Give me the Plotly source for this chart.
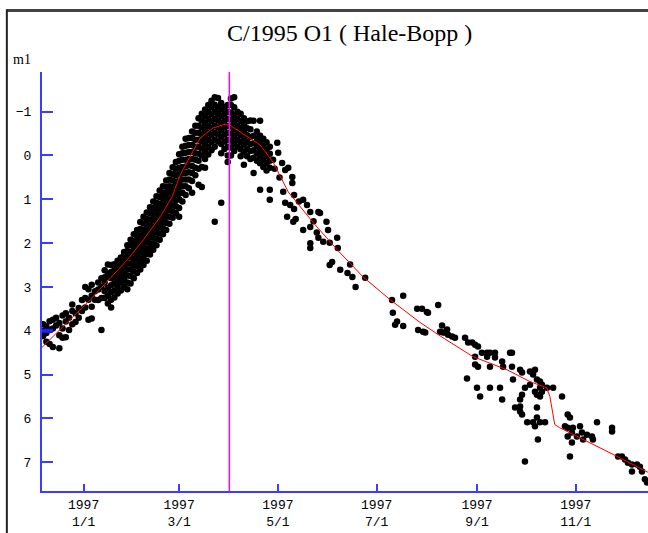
import plotly.graph_objects as go

# x = days from 1997-01-01, y = total magnitude m1

# sparse points before January
early_days = [-25, -23, -21, -19, -17, -15, -13, -11, -9, -7, -5, -3, -1, 1, 3, 5, 7, 9, 11]
early_mags = [
    [3.85, 4.0, 4.12], [3.9, 4.05, 4.25], [3.78, 3.98, 4.3], [3.75, 3.95, 4.37],
    [3.7, 3.88], [3.82, 4.1, 4.4], [3.65, 3.95, 4.16], [3.6, 3.79, 4.15],
    [3.7, 3.98], [3.4, 3.55, 3.85], [3.6, 3.8], [3.48, 3.7], [3.3, 3.55],
    [3.0, 3.25, 3.47], [3.05, 3.29, 3.75], [2.95, 3.2, 3.45, 3.72], [3.1, 3.29],
    [2.9, 3.06, 3.3], [2.8, 3.0, 3.25, 3.98],
]

# dense band up to perihelion and just after
band_days = [13, 15, 17, 19, 21, 23, 25, 27, 29, 31, 33, 35, 37, 39, 41, 43, 45, 47,
             49, 51, 53, 55, 57, 59, 61, 63, 65, 67, 69, 71, 73, 75, 77, 79, 81, 83,
             85, 87, 89, 91, 93, 95, 97, 99, 101, 103, 105, 107, 109, 111, 113, 115]
band_mags = [
    [2.62, 2.78, 2.9, 3.1, 3.25],
    [2.49, 2.7, 2.77, 3.02, 3.2, 3.38],
    [2.5, 2.66, 2.8, 2.96, 3.12, 3.29, 3.47],
    [2.48, 2.62, 2.78, 2.92, 3.08, 3.24],
    [2.4, 2.55, 2.7, 2.85, 3.0, 3.15],
    [2.33, 2.47, 2.62, 2.76, 2.9, 3.08],
    [2.2, 2.28, 2.42, 2.56, 2.7, 2.84, 3.0],
    [2.05, 2.18, 2.32, 2.46, 2.6, 2.74, 2.9, 3.05],
    [1.92, 2.05, 2.2, 2.33, 2.47, 2.6, 2.75, 2.92],
    [1.8, 1.95, 2.08, 2.22, 2.36, 2.5, 2.64, 2.8],
    [1.7, 1.85, 1.98, 2.12, 2.25, 2.38, 2.52, 2.68],
    [1.52, 1.68, 1.82, 1.95, 2.08, 2.22, 2.35, 2.48, 2.6],
    [1.4, 1.55, 1.7, 1.83, 1.96, 2.1, 2.23, 2.36, 2.5],
    [1.3, 1.45, 1.58, 1.72, 1.85, 1.98, 2.12, 2.25, 2.4],
    [1.18, 1.32, 1.46, 1.6, 1.73, 1.86, 2.0, 2.13, 2.26],
    [1.05, 1.2, 1.34, 1.48, 1.62, 1.75, 1.88, 2.02, 2.15],
    [0.93, 1.08, 1.22, 1.36, 1.5, 1.63, 1.76, 1.9, 2.05],
    [0.8, 0.95, 1.1, 1.24, 1.37, 1.5, 1.64, 1.78, 1.92],
    [0.7, 0.85, 0.98, 1.12, 1.25, 1.38, 1.52, 1.66, 1.8],
    [0.57, 0.72, 0.86, 1.0, 1.13, 1.27, 1.4, 1.54, 1.7],
    [0.4, 0.55, 0.7, 0.84, 0.98, 1.12, 1.25, 1.4, 1.56],
    [0.27, 0.42, 0.57, 0.72, 0.86, 1.0, 1.14, 1.28, 1.42],
    [0.15, 0.3, 0.45, 0.6, 0.74, 0.88, 1.02, 1.16, 1.32],
    [-0.03, 0.12, 0.28, 0.43, 0.58, 0.72, 0.86, 1.0, 1.2, 1.4],
    [-0.2, -0.05, 0.1, 0.26, 0.4, 0.55, 0.7, 0.85, 1.05],
    [-0.38, -0.22, -0.06, 0.1, 0.25, 0.4, 0.55, 0.7, 0.9],
    [-0.4, -0.24, -0.08, 0.08, 0.22, 0.38, 0.55, 0.75],
    [-0.55, -0.4, -0.24, -0.08, 0.08, 0.24, 0.4, 0.58, 0.85],
    [-0.68, -0.52, -0.36, -0.2, -0.05, 0.1, 0.28, 0.45],
    [-0.85, -0.68, -0.52, -0.36, -0.2, -0.04, 0.12, 0.3, 0.67],
    [-0.95, -0.8, -0.64, -0.48, -0.32, -0.16, 0.0, 0.26, 0.72],
    [-1.05, -0.9, -0.74, -0.58, -0.42, -0.26, -0.1, 0.08, 0.28],
    [-1.15, -1.0, -0.84, -0.68, -0.52, -0.36, -0.2, -0.02],
    [-1.25, -1.1, -0.94, -0.78, -0.62, -0.46, -0.3, -0.12],
    [-1.33, -1.16, -1.0, -0.84, -0.68, -0.52, -0.36, -0.2, 1.51],
    [-1.31, -1.1, -0.95, -0.8, -0.64, -0.48, -0.32],
    [-1.2, -1.05, -0.9, -0.74, -0.58, -0.42, -0.26, -0.05, 1.08],
    [-1.1, -0.95, -0.8, -0.64, -0.48, -0.32, -0.15],
    [-1.15, -1.0, -0.84, -0.68, -0.52, -0.36, -0.2, 0.0, 0.15],
    [-1.3, -1.15, -0.98, -0.82, -0.66, -0.5, -0.34, -0.18, 0.0],
    [-1.33, -1.1, -0.92, -0.76, -0.6, -0.44, -0.28, -0.1],
    [-1.0, -0.84, -0.68, -0.52, -0.36, -0.2],
    [-0.95, -0.78, -0.62, -0.46, -0.3, -0.14, 0.02],
    [-0.85, -0.7, -0.55, -0.4, -0.25, -0.08, 0.21],
    [-0.78, -0.62, -0.46, -0.3, -0.14, 0.02],
    [-0.8, -0.6, -0.42, -0.26, -0.1, 0.08],
    [-0.79, -0.45, -0.28, -0.12, 0.05, 0.4],
    [-0.55, -0.38, -0.22, -0.05, 0.12],
    [-0.79, -0.45, -0.3, -0.14, 0.02, 0.18, 0.78],
    [-0.38, -0.22, -0.06, 0.1, 0.26],
    [-0.3, -0.14, 0.02, 0.18, 0.34],
    [-0.2, -0.04, 0.12, 0.28, 0.78, 1.01],
]

# single readings after perihelion
late_days = [117, 118, 119.6, 120.2, 121, 122.6, 123.3, 124.5, 124.5, 125.7, 126.4, 127.6,
             128.9, 128.9, 129.5, 130, 130, 131, 133, 135.6, 138, 135.6, 140, 140, 140, 140,
             142, 145, 146, 144, 145, 148, 150, 151, 152, 156.6, 157, 153.5, 152, 158.5,
             164.6, 163, 166, 168, 173.9, 190.5, 197.4, 191, 193.6, 192.4, 197.4, 206, 209,
             212, 212.7, 219, 206.6, 209.7, 211, 221.4, 220.2, 222, 224.5,
             223.3, 225.1, 227.6, 229.4, 235.6, 237.5, 240, 241.8, 243.6, 241.8, 241.8, 243.6,
             236.8, 246, 249.2, 251, 254.1, 249.2, 251, 254.1, 258.5, 259.1, 263.4, 264.6,
             264.6, 243, 244.9, 251, 257.2, 258.5, 269.6, 270.8, 265.2, 275.7, 278.8, 277.6,
             280, 281.9, 283.1, 275.7, 272.6, 281.9, 286.2, 290, 278.8, 280, 281.9, 283.1,
             270.8, 269.6, 269.6, 269.6, 266.5, 270.8, 280, 295.5, 277.6, 278.8, 280, 281.9,
             274, 285, 280.6, 272.6, 299, 300.4, 297.3, 299, 302.2, 306.6, 307.8, 301.6,
             304.7, 299, 301.6, 310.9, 314, 314.6, 308.5, 317.1, 300.4, 326.4, 326.4, 330.1,
             332.5, 334.4, 336.2, 338.7, 341.8, 343.6, 338.7, 344.9, 346.7, 348]
late_mags = [0.1, 0.3, -0.29, -0.06, 0.5, 0.17, 0.83, 0.33, 1.08, 1.4, 0.28, 1.13,
             0.49, 0.63, 1.51, 0.9, 1.22, 1.45, 1.05, 1.01, 1.13, 1.7, 1.29, 1.63, 2.0, 2.11,
             1.5, 1.29, 1.31, 1.76, 1.88, 1.97, 1.51, 1.7, 1.99, 1.88, 2.11, 2.43, 2.5, 2.61,
             2.49, 2.68, 2.77, 3.0, 2.79, 3.3, 3.2, 3.59, 3.79, 3.86, 3.89, 3.5, 3.5,
             3.57, 3.59, 3.41, 3.98, 4.02, 4.04, 3.88, 4.02, 4.04, 3.97,
             4.04, 4.09, 4.13, 4.16, 4.16, 4.27, 4.27, 4.32, 4.36, 4.59, 4.77, 4.82,
             5.09, 4.5, 4.5, 4.5, 4.5, 4.59, 4.82, 4.61, 4.7, 4.82, 4.5, 4.5,
             4.82, 5.3, 5.5, 5.3, 5.3, 5.57, 4.89, 4.95, 5.11, 4.93, 4.89, 5.0,
             5.11, 5.16, 5.23, 5.23, 5.3, 5.3, 5.3, 5.3, 5.39, 5.46, 5.5, 5.39,
             5.46, 5.57, 5.73, 5.84, 5.75, 5.91, 5.75, 5.5, 6.09, 6.18, 5.98, 6.09,
             6.09, 6.09, 6.48, 6.98, 5.91, 5.98, 6.18, 6.21, 6.21, 6.18, 6.32, 6.32,
             6.41, 6.41, 6.55, 6.37, 6.41, 6.48, 6.48, 6.09, 6.87, 6.21, 6.3, 6.87,
             6.87, 6.94, 7.01, 7.05, 7.05, 7.1, 7.21, 7.21, 7.39, 7.46]

# fitted light curve
model_days = [-25.7, 4.1, 27.0, 37.0, 47.3, 54.7, 59.7, 65.9, 72.0, 80.0, 86.4, 90.0, 96.7,
              109.0, 117.0, 126.4, 142.0, 156.6, 172.6, 189.3, 207.8, 222.0, 240.5, 261.5,
              275.7, 286.0, 288.0, 291.0, 294.0, 312.8, 327.0, 348.6]
model_mags = [4.38, 3.29, 2.38, 1.92, 1.40, 0.94, 0.44, 0.01, -0.40, -0.63, -0.70, -0.70, -0.54,
              -0.24, 0.15, 0.83, 1.54, 2.15, 2.77, 3.29, 3.81, 4.16, 4.59, 4.89,
              5.16, 5.30, 5.50, 6.14, 6.21, 6.55, 6.82, 7.23]

perihelion_day = 90  # 1997/4/1

tick_days = [0, 59, 120, 181, 243, 304]
tick_text = ["1997<br>1/1", "1997<br>3/1", "1997<br>5/1", "1997<br>7/1", "1997<br>9/1", "1997<br>11/1"]
mag_ticks = [-1, 0, 1, 2, 3, 4, 5, 6, 7]

obs_x, obs_y = [], []
for days, mags in [(early_days, early_mags), (band_days, band_mags)]:
    for d, ms in zip(days, mags):
        for m in ms:
            obs_x.append(d)
            obs_y.append(m)
obs_x += late_days
obs_y += late_mags

BLUE = "#3c3cff"
mono = dict(family="Liberation Mono", size=13, color="black")

fig = go.Figure()
fig.add_trace(go.Scatter(x=obs_x, y=obs_y, mode="markers",
                         marker=dict(color="black", size=6.5), showlegend=False))
fig.add_trace(go.Scatter(x=model_days, y=model_mags, mode="lines",
                         line=dict(color="red", width=1), showlegend=False))

fig.add_vline(x=perihelion_day, line_color="#ff00ff", line_width=1.5)

# window frame lines
fig.add_shape(type="line", xref="paper", yref="paper", x0=-0.058, x1=1.0, y0=1.147, y1=1.147,
              line=dict(color="#444444", width=3))
fig.add_shape(type="line", xref="paper", yref="paper", x0=-0.058, x1=-0.058, y0=1.15, y1=-0.11,
              line=dict(color="#222222", width=2))
# thick mark on the axis at m1 = 4
fig.add_shape(type="line", xref="paper", yref="y", x0=0, x1=0.018, y0=4, y1=4,
              line=dict(color="#2020ff", width=4))

fig.add_annotation(text="C/1995 O1 ( Hale-Bopp )", xref="paper", yref="paper",
                   x=0.507, y=1.093, showarrow=False, xanchor="center", yanchor="middle",
                   font=dict(family="Liberation Serif", size=24, color="black"))
fig.add_annotation(text="m1", xref="paper", yref="paper", x=-0.033, y=1.029,
                   showarrow=False, xanchor="center", yanchor="middle",
                   font=dict(family="Liberation Serif", size=14, color="black"))

fig.update_layout(
    width=648, height=533,
    margin=dict(l=42, r=0, t=72, b=42),
    paper_bgcolor="white", plot_bgcolor="white",
    xaxis=dict(range=[-25.7, 348.6], tickvals=tick_days, ticktext=tick_text,
               showgrid=False, zeroline=False, showline=True, linecolor=BLUE, linewidth=2,
               ticks="inside", ticklen=7, tickwidth=2, tickcolor=BLUE, tickfont=mono),
    yaxis=dict(range=[7.656, -1.905], tickvals=mag_ticks,
               showgrid=False, zeroline=False, showline=True, linecolor=BLUE, linewidth=2,
               ticks="inside", ticklen=11, tickwidth=2, tickcolor=BLUE, tickfont=mono,
               ticklabelstandoff=6),
)

fig.write_html("out.html", config={"displayModeBar": False})

# drop the default 8px body margin so the figure fills the window
with open("out.html") as f:
    page = f.read()
page = page.replace("<head>", "<head><style>html,body{margin:0;padding:0;overflow:hidden;}</style>", 1)
with open("out.html", "w") as f:
    f.write(page)
